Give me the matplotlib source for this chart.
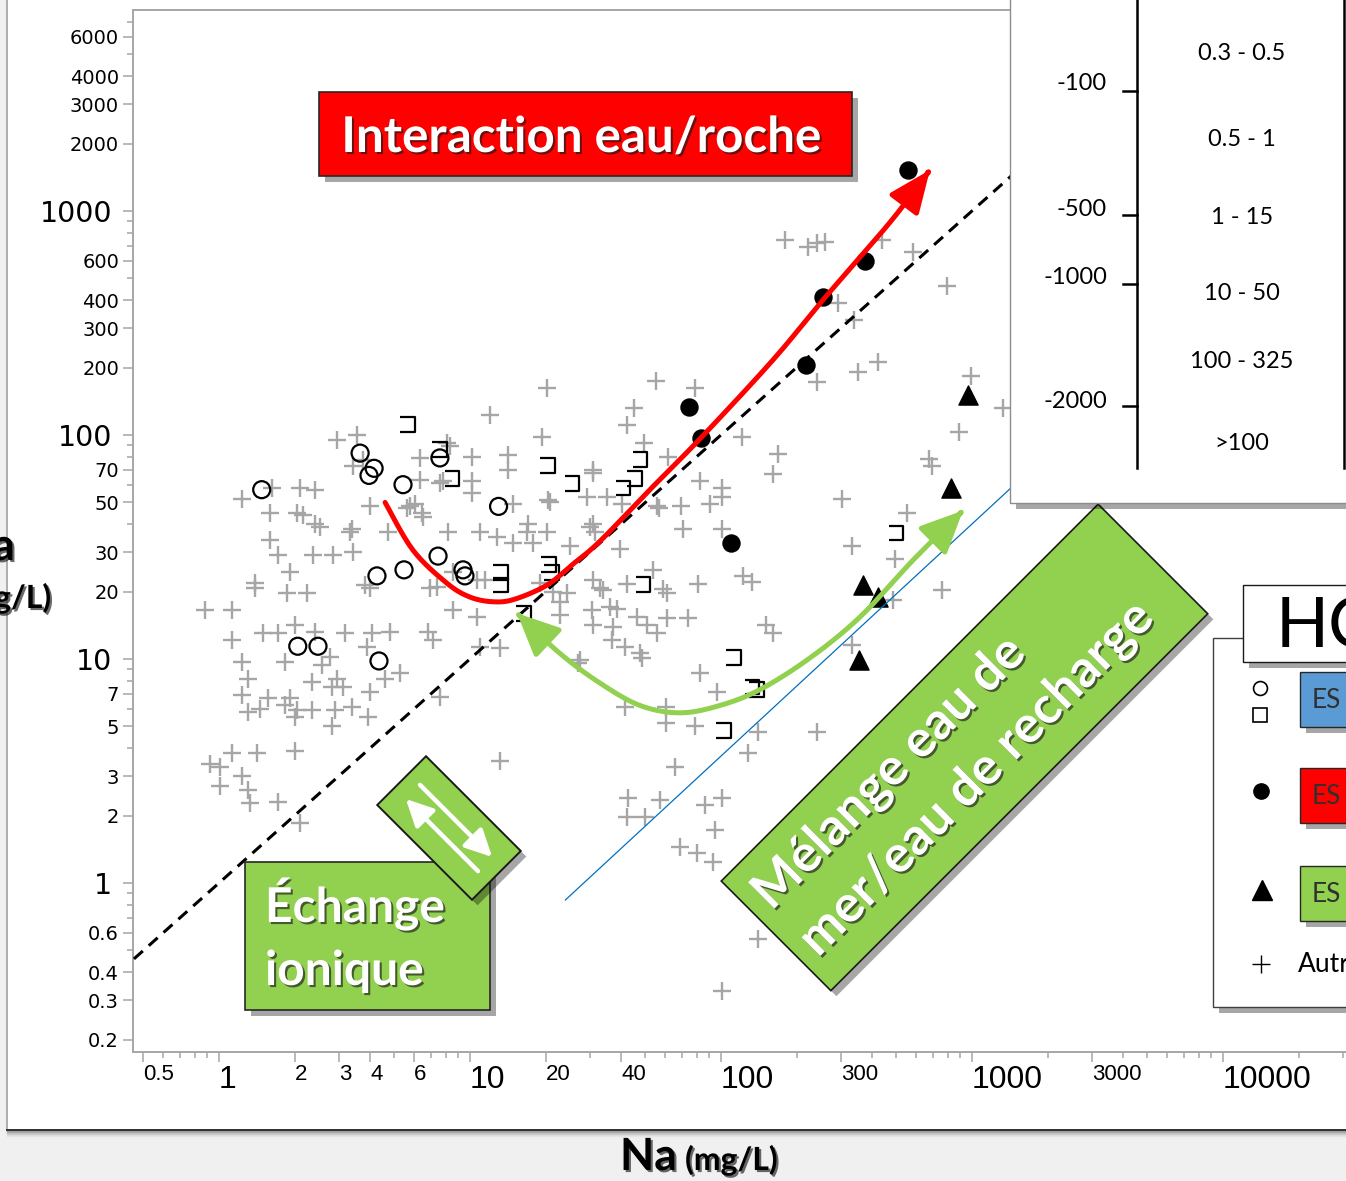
import numpy as np
import matplotlib
matplotlib.use("Agg")
import matplotlib.pyplot as plt
from matplotlib.patches import Rectangle, Polygon, FancyArrowPatch
from matplotlib.path import Path
from matplotlib.ticker import FixedLocator, FixedFormatter, NullFormatter
from matplotlib.transforms import ScaledTranslation
import matplotlib.patheffects as pe

# ---------------- data (mg/L) ----------------
autres_na = [180, 222, 241, 259, 438, 582, 795, 292, 339, 422, 351, 241, 991, 1330, 887, 674, 693,
             55.1, 78.8, 45.0, 42.2, 49.3, 61.5, 121, 169, 161, 82.4, 101, 101, 90.4, 69.3, 56.6, 35.2, 40.3, 70.6, 101,
             39.6, 53.6, 81.0, 42.2, 58.7, 60.9, 33.9, 36.1, 38.5, 46.3, 60.9, 73.9, 50.7, 55.6, 37.1, 41.5, 47.6,
             122, 133, 151, 161, 303, 551, 333, 493, 759, 484, 333, 29.2, 30.9, 55.6, 30.1, 33.0,
             24.3, 30.9, 48.5, 26.9, 82.4, 96.4, 41.5, 60.4, 60.4, 78.8, 140, 128, 241, 65.6,
             42.5, 57.1, 42.2, 49.8, 86.3, 101, 94.6, 68.7, 80.2, 93.0, 140, 101, 13.2,
             20.3, 12.0, 19.4, 2.95, 3.55, 3.42, 3.75, 6.32, 8.09, 10.2, 14.2, 14.2, 7.80, 10.2, 10.2, 6.32, 5.61, 6.04, 6.44, 14.8, 20.5, 30.9,
             30.9, 31.5, 17.0, 20.3, 17.8, 14.8, 12.8, 11.0, 8.17, 25.0, 8.55, 6.93, 10.7, 11.5, 21.4, 22.8,
             8.55, 10.7, 13.2, 22.8, 30.6, 30.9, 19.0, 7.39, 4.00, 5.77, 6.50, 7.59, 8.32, 20.8, 4.71, 3.32, 16.9, 27.4, 36.8,
             1.63, 2.10, 2.41, 1.24, 1.60, 2.05, 2.16, 2.41, 2.53, 3.39, 1.60, 1.72, 2.37, 2.85, 3.42, 1.92, 1.39, 1.39, 1.87, 2.24, 3.82, 0.88, 1.13, 4.0,
             2.01, 1.50, 1.72, 1.13, 2.41, 3.18, 4.07, 4.80, 6.80, 7.12, 3.89, 2.77, 1.24, 1.83, 2.57, 5.26, 4.59, 1.31, 2.95, 2.35, 2.82, 3.12,
             1.24, 1.57, 1.92, 4.00, 1.46, 1.31, 1.83, 2.05, 2.35, 2.90, 3.39, 2.01, 3.92, 2.82, 7.59, 11.0,
             1.13, 1.42, 2.01, 0.92, 1.01, 1.24, 1.01, 1.31, 1.33, 1.72, 2.10]
autres_ca = [743, 691, 720, 727, 743, 656, 462, 388, 326, 212, 191, 172, 183, 132, 103, 78, 73,
             174, 162, 132, 111, 92, 80, 98, 82, 67, 62, 58, 53, 49, 48, 47, 53, 49, 38, 38,
             31, 25, 21.6, 21.6, 20.5, 19.7, 20.3, 17.1, 16.7, 15.4, 15.2, 15.2, 14.2, 13.1, 13.9, 11.3, 10.6,
             23.5, 22, 14.2, 13.1, 52, 45, 32, 28, 20.3, 18.3, 11.6, 53, 68, 48, 39, 20.7,
             19.7, 14.2, 10.1, 9.6, 8.7, 7.1, 6.1, 6.1, 5.2, 5.0, 4.7, 3.8, 4.7, 3.3,
             2.4, 2.35, 1.97, 1.97, 2.23, 2.4, 1.72, 1.45, 1.36, 1.24, 0.56, 0.33, 3.5,
             162, 123, 98, 95, 100, 73, 77, 79, 92, 80, 81, 70, 62, 62, 55, 63, 47, 49, 45, 49, 51, 70,
             40, 37, 40, 37, 33, 33, 35, 37, 37, 32, 24.5, 20.7, 22.5, 22.5, 19.9, 18,
             16.5, 15.4, 11.2, 15.7, 16.5, 22.5, 21.8, 21, 48, 48, 43, 61, 89, 50, 37, 37, 37, 9.9, 12.2,
             58, 58, 57, 52, 45, 45, 44, 40, 39, 38, 34, 29, 29, 29, 30, 24.5, 21.8, 20.7, 19.7, 19.7, 21.4, 16.5, 16.5, 20.7,
             14.2, 13.1, 13.1, 12.2, 13.2, 13.1, 13.1, 13.2, 13.2, 12.2, 11.3, 10.2, 9.7, 9.7, 9.4, 8.7, 8.1, 8.1, 8.1, 7.9, 7.5, 7.5,
             6.9, 6.7, 6.7, 7.1, 6.0, 5.8, 6.2, 5.9, 5.9, 5.9, 6.1, 5.5, 5.5, 5.0, 6.8, 11.3,
             3.8, 3.8, 3.9, 3.4, 3.3, 3.0, 2.7, 2.6, 2.28, 2.3, 1.85]

es1_circle_na = [1.48, 3.65, 4.15, 3.96, 5.41, 7.59, 13.0, 4.26, 5.46, 7.46, 9.38, 9.55, 2.06, 2.48, 4.34]
es1_circle_ca = [57, 83, 71, 66, 60, 79, 48, 23.5, 25, 28.8, 25, 23.5, 11.4, 11.4, 9.8]

es1_square_na = [5.66, 7.59, 8.48, 20.3, 25.5, 40.7, 45.4, 47.6, 13.2, 13.2, 20.5, 21.2, 16.3, 48.9, 112, 139, 133, 102, 498]
es1_square_ca = [111, 86, 64, 73, 61, 58, 64, 78, 24.4, 21.4, 26.3, 24.4, 16.0, 21.6, 10.2, 7.3, 7.5, 4.8, 36.5]

es2_na = [556, 375, 255, 218, 74.6, 83.2, 110]
es2_ca = [1520, 600, 413, 205, 133, 97, 33]

es3_na = [964, 825, 368, 422, 355]
es3_ca = [151, 58, 21.4, 18.9, 9.9]

# reference lines
line11_na = [0.4, 3000]           # Ca = Na
seawater_na = [24, 3000]          # seawater dilution line
seawater_ca = [0.84, 125]

# interpretive arrows (Na, Ca)
red_na = [4.59, 5.93, 8.09, 10.0, 12.4, 15.1, 20.3, 25.7, 33.0, 52.1, 82.4, 161, 255, 471, 680]
red_ca = [50, 30.6, 21.8, 18.9, 18.0, 18.5, 21.4, 26.5, 33.6, 57, 96, 216, 401, 889, 1524]
green_na = [15.4, 22.8, 33.0, 47.6, 68.7, 99, 143, 226, 358, 582, 921]
green_ca = [16.0, 10.6, 7.8, 6.2, 5.75, 6.2, 7.3, 10.1, 15.4, 27.6, 46]

x_major = [0.5, 1, 2, 3, 4, 6, 10, 20, 40, 100, 300, 1000, 3000, 10000]
x_labels = ['0.5', '1', '2', '3', '4', '6', '10', '20', '40', '100', '300', '1000', '3000', '10000']
y_major = [0.2, 0.3, 0.4, 0.6, 1, 2, 3, 5, 7, 10, 20, 30, 50, 70, 100, 200, 300, 400, 600,
           1000, 2000, 3000, 4000, 6000]
y_labels = ['0.2', '0.3', '0.4', '0.6', '1', '2', '3', '5', '7', '10', '20', '30', '50', '70', '100',
            '200', '300', '400', '600', '1000', '2000', '3000', '4000', '6000']

table_depths = ['-100', '-500', '-1000', '-2000']
table_ranges = ['0.3 - 0.5', '0.5 - 1', '1 - 15', '10 - 50', '100 - 325', '>100']

# ---------------- figure ----------------
W, H, DPI = 1346, 1181, 100
fig = plt.figure(figsize=(W / DPI, H / DPI), dpi=DPI, facecolor='#f0f0f0')


def fb(x0, y0, x1, y1):
    return [x0 / W, 1 - y1 / H, (x1 - x0) / W, (y1 - y0) / H]


box_shadow = [pe.withSimplePatchShadow(offset=(4, -4), shadow_rgbFace='black', alpha=0.35)]
txt_shadow = [pe.withSimplePatchShadow(offset=(1.5, -1.5), shadow_rgbFace='#1a1a1a', alpha=0.65)]

# background frame
bg = fig.add_axes([0, 0, 1, 1], zorder=0)
bg.set_xlim(0, W); bg.set_ylim(H, 0); bg.axis('off')
bg.add_patch(Rectangle((7, -5), W + 10, 1135, facecolor='white', edgecolor='#a0a0a0', lw=1.2))
for i, a in enumerate([0.30, 0.22, 0.15, 0.10, 0.06, 0.03]):
    bg.plot([7, W], [1131 + i, 1131 + i], color='k', alpha=a, lw=1)
bg.plot([7, W], [1130, 1130], color='#303030', lw=1.4)

# main axes
ax = fig.add_axes(fb(133, 10, 1366, 1052), zorder=1)
ax.set_facecolor('white')
ax.set_xscale('log'); ax.set_yscale('log')
ax.set_xlim(0.4544, 37150)
ax.set_ylim(0.1760, 7894)
for s in ['left', 'top', 'bottom']:
    ax.spines[s].set_color('#a6a6a6'); ax.spines[s].set_linewidth(1.4)
ax.spines['right'].set_visible(False)

x_minor = [m * 10.0 ** e for e in range(-1, 5) for m in range(1, 10)]
x_minor = [v for v in x_minor if not np.any(np.isclose(v, x_major)) and 0.455 < v < 37000]
y_minor = [m * 10.0 ** e for e in range(-1, 4) for m in range(1, 10)]
y_minor = [v for v in y_minor if not np.any(np.isclose(v, y_major)) and 0.177 < v < 7890]

ax.xaxis.set_major_locator(FixedLocator(x_major))
ax.xaxis.set_major_formatter(FixedFormatter(x_labels))
ax.xaxis.set_minor_locator(FixedLocator(x_minor))
ax.xaxis.set_minor_formatter(NullFormatter())
ax.yaxis.set_major_locator(FixedLocator(y_major))
ax.yaxis.set_major_formatter(FixedFormatter(y_labels))
ax.yaxis.set_minor_locator(FixedLocator(y_minor))
ax.yaxis.set_minor_formatter(NullFormatter())
ax.tick_params(which='major', direction='out', length=7, width=1.1, color='#a6a6a6')
ax.tick_params(which='minor', direction='out', length=4.5, width=1.1, color='#a6a6a6')
ax.tick_params(axis='x', which='major', pad=2)
ax.tick_params(axis='y', which='major', pad=3)

decades = [1, 10, 100, 1000, 10000]
xfont = ['Liberation Sans', 'DejaVu Sans']
for v, lab in zip(x_major, ax.get_xticklabels()):
    lab.set_family(xfont)
    lab.set_horizontalalignment('left')
    lab.set_fontsize(23 if v in decades else 16)
shift = ScaledTranslation(-5 / 72, 0, fig.dpi_scale_trans)
for v, lab in zip(y_major, ax.get_yticklabels()):
    lab.set_family('DejaVu Sans')
    if v in decades:
        lab.set_fontsize(20.5)
        lab.set_transform(lab.get_transform() + shift)
    else:
        lab.set_fontsize(14)

# data marks
ax.scatter(autres_na, autres_ca, marker='+', s=165, c='#a6a6a6', linewidths=1.7, zorder=2)
bracket = Path([(-1, 1), (1, 1), (1, -1), (-1, -1)],
               [Path.MOVETO, Path.LINETO, Path.LINETO, Path.LINETO])
ax.scatter(es1_square_na, es1_square_ca, marker=bracket, s=115, facecolors='none',
           edgecolors='black', linewidths=1.6, zorder=3)
ax.scatter(es1_circle_na, es1_circle_ca, marker='o', s=150, facecolors='none',
           edgecolors='black', linewidths=1.6, zorder=3)
ax.scatter(es2_na, es2_ca, marker='o', s=150, c='black', zorder=3)
ax.scatter(es3_na, es3_ca, marker='^', s=190, c='black', zorder=3)

# reference lines
l11 = np.array(line11_na)
ax.plot(l11, l11, color='black', lw=2.2, linestyle=(0, (3.9, 2.6)), zorder=4)
ax.plot(seawater_na, seawater_ca, color='#0070c0', lw=0.9, zorder=4)


def smooth_log(xs, ys, n=16):
    P = np.column_stack([np.log10(xs), np.log10(ys)])
    out = []
    for i in range(len(P) - 1):
        p0 = P[i - 1] if i > 0 else P[i]
        p1, p2 = P[i], P[i + 1]
        p3 = P[i + 2] if i + 2 < len(P) else P[i + 1]
        for t in np.linspace(0, 1, n, endpoint=False):
            out.append(0.5 * (2 * p1 + (-p0 + p2) * t + (2 * p0 - 5 * p1 + 4 * p2 - p3) * t ** 2
                              + (-p0 + 3 * p1 - 3 * p2 + p3) * t ** 3))
    out.append(P[-1])
    return 10 ** np.array(out)


rp = smooth_log(red_na, red_ca)
ax.add_patch(FancyArrowPatch(path=Path(rp), arrowstyle='-|>,head_length=1.3,head_width=0.55',
                             mutation_scale=20, color='#ff0000', lw=3.6,
                             transform=ax.transData, zorder=5))
gp = smooth_log(green_na, green_ca)
ax.add_patch(FancyArrowPatch(path=Path(gp), arrowstyle='<|-|>,head_length=1.3,head_width=0.6',
                             mutation_scale=20, color='#92d050', lw=3.6,
                             transform=ax.transData, zorder=5))

# ---------------- overlay (annotations, table, legend) ----------------
ov = fig.add_axes([0, 0, 1, 1], zorder=3)
ov.set_xlim(0, W); ov.set_ylim(H, 0); ov.axis('off')
LATO = ['Lato', 'DejaVu Sans']


def rot_rect(cx, cy, L, Wd, ux, uy):
    nx, ny = -uy, ux
    hl, hw = L / 2, Wd / 2
    return [(cx - hl * ux - hw * nx, cy - hl * uy - hw * ny),
            (cx + hl * ux - hw * nx, cy + hl * uy - hw * ny),
            (cx + hl * ux + hw * nx, cy + hl * uy + hw * ny),
            (cx - hl * ux + hw * nx, cy - hl * uy + hw * ny)]


r2 = np.sqrt(0.5)
# Interaction eau/roche
ov.add_patch(Rectangle((319, 92), 533, 84, fc='#ff0000', ec='#262626', lw=1.2, path_effects=box_shadow))
ov.text(581, 152, 'Interaction eau/roche', color='white', fontsize=35.5, fontweight='bold',
        family=LATO, ha='center', va='baseline', path_effects=txt_shadow)

# Echange ionique
ov.add_patch(Rectangle((245, 862), 245, 148, fc='#92d050', ec='#262626', lw=1.2, path_effects=box_shadow))
ov.text(265, 922, 'Échange', color='white', fontsize=34.5, fontweight='bold', family=LATO,
        ha='left', va='baseline', path_effects=txt_shadow)
ov.text(265, 985, 'ionique', color='white', fontsize=34.5, fontweight='bold', family=LATO,
        ha='left', va='baseline', path_effects=txt_shadow)

# small exchange box with double arrows
cx, cy = 449, 828
ov.add_patch(Polygon(rot_rect(cx, cy, 134, 69, r2, r2), closed=True, fc='#92d050', ec='#1a1a1a',
                     lw=1.4, path_effects=box_shadow))
u = np.array([r2, r2]); v = np.array([r2, -r2]); c = np.array([cx, cy])
for a, b in [(c + 51 * u - 10 * v, c - 51 * u - 10 * v), (c - 51 * u + 10 * v, c + 51 * u + 10 * v)]:
    ov.add_patch(FancyArrowPatch(tuple(a), tuple(b), arrowstyle='-|>,head_length=0.9,head_width=0.45',
                                 mutation_scale=18, color='white', lw=3.2, shrinkA=0, shrinkB=0))

# Melange box
ov.add_patch(Polygon(rot_rect(964.5, 747.4, 533, 155, r2, -r2), closed=True, fc='#92d050',
                     ec='#1a1a1a', lw=1.2, path_effects=box_shadow))
ov.text(771.5, 911.5, 'Mélange eau de', color='white', fontsize=37, fontweight='bold', family=LATO,
        rotation=45, rotation_mode='anchor', ha='left', va='baseline', path_effects=txt_shadow)
ov.text(818.1, 958.1, 'mer/eau de recharge', color='white', fontsize=37, fontweight='bold', family=LATO,
        rotation=45, rotation_mode='anchor', ha='left', va='baseline', path_effects=txt_shadow)

# table box (top right)
ov.add_patch(Rectangle((1010, -10), 400, 513, fc='white', ec='#8c8c8c', lw=1.0, path_effects=box_shadow))
ov.plot([1137, 1137], [0, 468], color='black', lw=1.8)
ov.plot([1344, 1344], [0, 468], color='black', lw=1.8)
for lab, yy, yt in zip(table_depths, [91, 215, 284, 406], [84, 209, 278, 401]):
    ov.plot([1123, 1137], [yy, yy], color='black', lw=1.8)
    ov.text(1107, yt, lab, fontsize=17, family=LATO, ha='right', va='center')
for lab, yy in zip(table_ranges, [53, 139, 218, 293, 362, 443]):
    ov.text(1242, yy, lab, fontsize=17, family=LATO, ha='center', va='center')

# legend (bottom right)
ov.add_patch(Rectangle((1213, 638), 200, 369, fc='white', ec='#404040', lw=1.0, path_effects=box_shadow))
ov.add_patch(Rectangle((1243, 585), 200, 77, fc='white', ec='#1a1a1a', lw=1.0, path_effects=box_shadow))
ov.text(1276, 648, 'HC', fontsize=50, family=LATO, ha='left', va='baseline', color='black')
for y0, col in [(672, '#5b9bd5'), (768, '#ff0000'), (866, '#92d050')]:
    ov.add_patch(Rectangle((1300, y0), 120, 55, fc=col, ec='#262626', lw=1.0, path_effects=box_shadow))
    ov.text(1312, y0 + 28, 'ES', fontsize=19, family=LATO, ha='left', va='center', color='#303030')
ov.text(1298, 964, 'Autres', fontsize=19, family=LATO, ha='left', va='center', color='black')
ov.plot([1260], [688], marker='o', ms=10, mfc='none', mec='black', mew=1.2)
ov.plot([1260], [715], marker='s', ms=10, mfc='none', mec='black', mew=1.2)
ov.plot([1261], [791], marker='o', ms=11, color='black')
ov.plot([1262], [890], marker='^', ms=14, color='black')
ov.plot([1261], [964], marker='+', ms=13, mec='black', mew=1.0)

# axis titles
ov.text(677, 1170, 'Na', fontsize=32, fontweight='bold', family=LATO, ha='right', va='baseline',
        path_effects=txt_shadow)
ov.text(685, 1170, '(mg/L)', fontsize=23, fontweight='bold', family=LATO, ha='left', va='baseline',
        path_effects=txt_shadow)
ov.text(15, 560, 'Ca', fontsize=32, fontweight='bold', family=LATO, ha='right', va='baseline',
        path_effects=txt_shadow)
ov.text(51, 608, '(mg/L)', fontsize=23, fontweight='bold', family=LATO, ha='right', va='baseline',
        path_effects=txt_shadow)

fig.savefig('out.png', dpi=DPI, facecolor=fig.get_facecolor())
